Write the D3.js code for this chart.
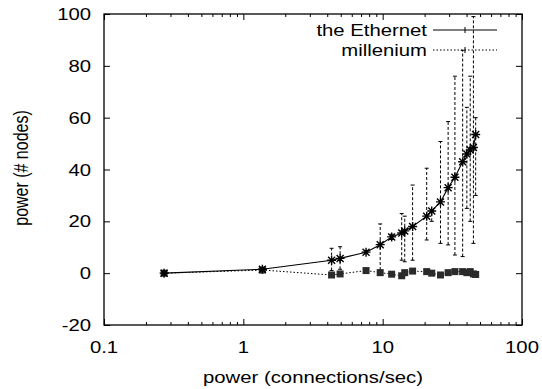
<!DOCTYPE html>
<html>
<head>
<meta charset="utf-8">
<script src="https://cdn.jsdelivr.net/npm/d3@7"></script>
<style>
  body { margin: 0; background: #fff; }
  svg { display: block; }
</style>
</head>
<body>
<script>
// connection rates (x) shared by both runs
var rates = [0.27, 1.37, 4.3, 4.95, 7.6, 9.6, 11.6, 13.7, 14.4, 16.4, 20.7, 22.5, 26, 29.5, 33, 37.5, 40.2, 42.5, 44.8, 46.5];
var ethernet = [0, 1.5, 5, 5.7, 8.1, 11, 14, 15.5, 16.3, 18, 22, 24, 27.5, 33, 37, 43, 46, 47.5, 48.5, 53.5];
var errLow  = [0, 1.5, 1, 1.5, 7.5, 1.2, 13, 5, 4.4, 5, 12.8, 20, 11.5, 10.9, 7, 6.4, 25, 20, 11.5, 30];
var errHigh = [0, 1.5, 9.6, 10.2, 8.7, 19, 15, 23, 22, 34, 40.5, 24, 50.8, 58.5, 76, 86, 64, 76, 99, 60];
var millenium = [0, 1.2, -0.7, -0.3, 1.0, 0.2, -0.4, -1, 0.2, 0.8, 0.6, 0, -0.7, 0.2, 0.6, 0.6, 0.2, 0.6, -0.3, -0.5];

var xTicks = [0.1, 1, 10, 100];
var yTicks = [-20, 0, 20, 40, 60, 80, 100];
var names = ["the Ethernet", "millenium"];

var W = 542, H = 389;
var pLeft = 104, pRight = 522, pTop = 14, pBottom = 325;
var stretch = 1.27;   // the original picture is wider than tall, text is stretched

var svg = d3.select("body").append("svg")
  .attr("width", W)
  .attr("height", H);

var x = d3.scaleLog().domain([0.1, 100]).range([pLeft, pRight]);
var y = d3.scaleLinear().domain([-20, 100]).range([pBottom, pTop]);

var minor = [];
[0.1, 1, 10].forEach(function(d) {
  for (var k = 2; k <= 9; k++) minor.push(d * k);
});

function axis(gen, vals, size, tx, ty) {
  var g = svg.append("g")
    .attr("transform", "translate(" + tx + "," + ty + ")")
    .call(gen.tickValues(vals).tickSize(size).tickFormat(""));
  g.select(".domain").remove();
  g.selectAll("line").attr("stroke", "#000").attr("stroke-width", 1);
}

axis(d3.axisBottom(x), xTicks, -6, 0, pBottom);
axis(d3.axisBottom(x), minor, -3, 0, pBottom);
axis(d3.axisTop(x), xTicks, -6, 0, pTop);
axis(d3.axisTop(x), minor, -3, 0, pTop);
axis(d3.axisLeft(y), yTicks, -6, pLeft, 0);
axis(d3.axisRight(y), yTicks, -6, pRight, 0);

svg.append("rect")
  .attr("x", pLeft)
  .attr("y", pTop)
  .attr("width", pRight - pLeft)
  .attr("height", pBottom - pTop)
  .attr("fill", "none")
  .attr("stroke", "#000")
  .attr("stroke-width", 1.3);

function label(px, py, str, anchor) {
  svg.append("text")
    .attr("transform", "translate(" + px + "," + py + ") scale(" + stretch + ",1)")
    .attr("text-anchor", anchor)
    .attr("font-family", "Liberation Sans, Arial, sans-serif")
    .attr("font-size", 16)
    .attr("fill", "#000")
    .text(str);
}

xTicks.forEach(function(d) { label(x(d), 353, String(d), "middle"); });
yTicks.forEach(function(d) { label(91, y(d) + 6, String(d), "end"); });
label((pLeft + pRight) / 2, 383, "power (connections/sec)", "middle");

svg.append("text")
  .attr("transform", "translate(28,168) scale(" + stretch + ",1) rotate(-90)")
  .attr("text-anchor", "middle")
  .attr("font-family", "Liberation Sans, Arial, sans-serif")
  .attr("font-size", 16)
  .text("power (# nodes)");

// error bars
var bars = svg.append("g")
  .attr("stroke", "#000")
  .attr("stroke-width", 1)
  .attr("stroke-dasharray", "3,2");

rates.forEach(function(r, i) {
  if (errHigh[i] - errLow[i] < 0.5) return;
  var cx = x(r);
  bars.append("line")
    .attr("x1", cx).attr("x2", cx)
    .attr("y1", y(errLow[i])).attr("y2", y(errHigh[i]));
  [errLow[i], errHigh[i]].forEach(function(v) {
    bars.append("line")
      .attr("x1", cx - 2).attr("x2", cx + 2)
      .attr("y1", y(v)).attr("y2", y(v))
      .attr("stroke-dasharray", "none");
  });
});

// millenium: dotted line with squares
var line = d3.line()
  .x(function(d) { return x(d[0]); })
  .y(function(d) { return y(d[1]); });

svg.append("path")
  .datum(d3.zip(rates, millenium))
  .attr("d", line)
  .attr("fill", "none")
  .attr("stroke", "#000")
  .attr("stroke-width", 1)
  .attr("stroke-dasharray", "1.5,2");

svg.append("g").selectAll("rect")
  .data(d3.zip(rates, millenium))
  .join("rect")
    .attr("x", function(d) { return x(d[0]) - 3.5; })
    .attr("y", function(d) { return y(d[1]) - 3.5; })
    .attr("width", 7)
    .attr("height", 7)
    .attr("fill", "#2a2a2a");

// the Ethernet: solid line with star points
svg.append("path")
  .datum(d3.zip(rates, ethernet))
  .attr("d", line)
  .attr("fill", "none")
  .attr("stroke", "#000")
  .attr("stroke-width", 1.1);

var star = "M-4.5,0H4.5M0,-4.5V4.5M-3.5,-3.5L3.5,3.5M-3.5,3.5L3.5,-3.5";
svg.append("g").selectAll("path")
  .data(d3.zip(rates, ethernet))
  .join("path")
    .attr("transform", function(d) { return "translate(" + x(d[0]) + "," + y(d[1]) + ")"; })
    .attr("d", star)
    .attr("fill", "none")
    .attr("stroke", "#000")
    .attr("stroke-width", 1.4);

// key
names.forEach(function(n, i) {
  var ky = 30 + i * 20;
  label(427, ky + 6, n, "end");
  svg.append("line")
    .attr("x1", 433).attr("x2", 497)
    .attr("y1", ky).attr("y2", ky)
    .attr("stroke", "#000")
    .attr("stroke-width", 1)
    .attr("stroke-dasharray", i == 0 ? "none" : "1.5,2");
  svg.append("line")
    .attr("x1", 465).attr("x2", 465)
    .attr("y1", ky - 3).attr("y2", ky + 3)
    .attr("stroke", "#000")
    .attr("stroke-width", 1);
});
</script>
</body>
</html>
